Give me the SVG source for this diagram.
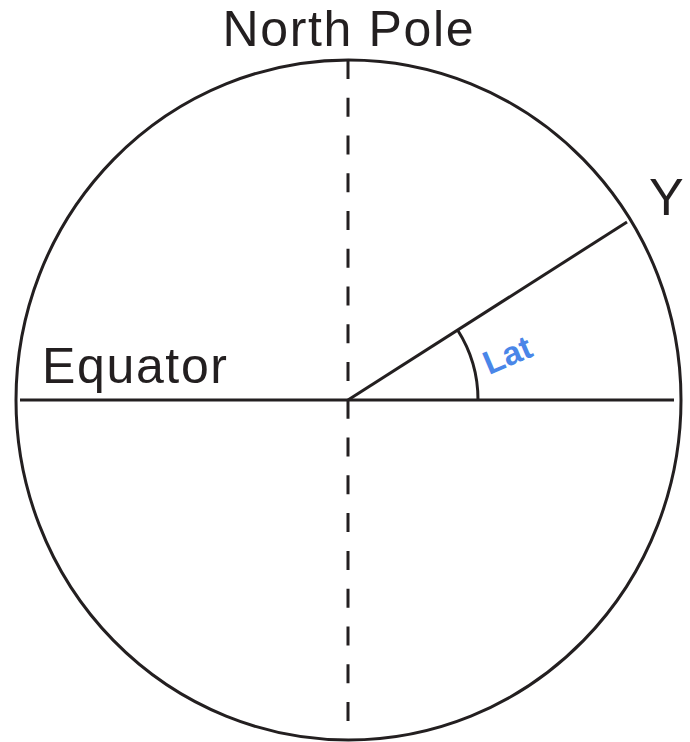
<svg xmlns="http://www.w3.org/2000/svg" width="690" height="742" viewBox="0 0 690 742">
  <style>
    .ln { fill: none; stroke: #231f20; stroke-width: 3; }
    .lbl { font-family: "Liberation Sans", Arial, sans-serif; fill: #231f20; }
    .lat { font-family: "Liberation Sans", Arial, sans-serif; font-weight: bold; fill: #4a86e8; }
  </style>
  <rect width="690" height="742" fill="#ffffff"/>
  <g id="globe">
    <ellipse class="ln" cx="348.5" cy="400" rx="332.5" ry="340"/>
  </g>
  <g id="connectors">
    <line class="ln" x1="20" y1="400" x2="674" y2="400"/>
    <line class="ln" x1="348" y1="60" x2="348" y2="721" stroke-dasharray="19 18.76"/>
    <line class="ln" x1="348" y1="400" x2="627" y2="222"/>
    <path class="ln" d="M457.6 330 A130 130 0 0 1 478 400"/>
  </g>
  <g id="north-pole">
    <text class="lbl" x="348" y="46" font-size="50" text-anchor="middle" textLength="251">North Pole</text>
  </g>
  <g id="equator">
    <text class="lbl" x="42" y="383" font-size="50" textLength="185">Equator</text>
  </g>
  <g id="y-label">
    <text class="lbl" x="649" y="215" font-size="52">Y</text>
  </g>
  <g id="lat-label">
    <text class="lat" x="0" y="0" font-size="33" transform="translate(489 375) rotate(-23)">Lat</text>
  </g>
</svg>
